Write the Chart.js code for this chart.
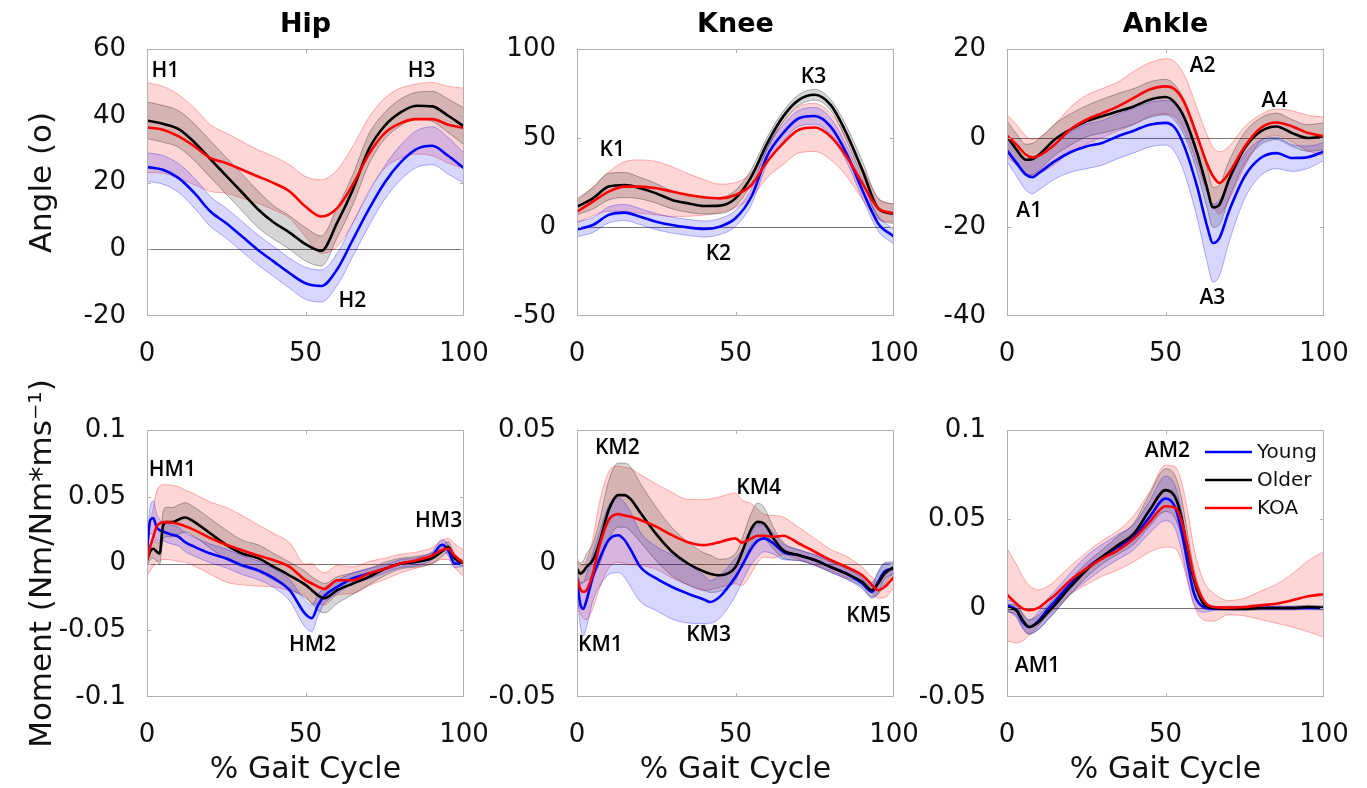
<!DOCTYPE html>
<html lang="en">
<head>
<meta charset="UTF-8">
<title>Gait cycle angles and moments</title>
<script src="https://cdn.jsdelivr.net/npm/chart.js"></script>
<style>
  body { margin: 0; background: #fff; width: 1367px; height: 788px; overflow: hidden; position: relative; }
  canvas { position: absolute; }
</style>
</head>
<body>
<script>
// ---- data (% gait cycle on x) ----
const groupNames = ['Young', 'Older', 'KOA'];
const xTicks = [0, 50, 100];

// Hip angle
const hipAngleX = [0,5,10,15,20,25,30,35,40,45,50,55,60,65,70,75,80,85,90,95,100];
const hipAngleYoung = [24.6,23.8,21.3,16.8,11.3,7.8,3.8,-0.2,-3.7,-7.2,-10.2,-11,-6,3,12,20,26,30,31,28,24.3];
const hipAngleYoungSD = [4.3,4.3,4.3,4.5,4.5,4.5,4.5,4.5,4.5,4.5,4.8,4.8,4.8,5,5,5,5.2,5.5,5.7,5.5,4.5];
const hipAngleOlder = [38.6,37.6,36,32,27,22,17,12,8,5,1.5,-0.5,8,18,30,37,41,43,42.8,40,36.8];
const hipAngleOlderSD = [5.5,5.5,5.5,5.5,5.5,5.5,5.5,5.5,5,5,5,4.5,4.5,4.5,4.5,4,4,4,4.5,5,5.5];
const hipAngleKoa = [36.5,35.8,33.8,30.8,27.3,25.8,23.8,21.8,19.8,17.3,12.8,9.8,12.3,19.5,28.5,34.8,37.8,39,39,37.3,36.3];
const hipAngleKoaSD = [13.5,13,12.5,11.5,10,9,8.5,8,8,8,9,11,11.5,11.5,11,10.5,10.5,10.5,11,11.5,12];
const hipAngleTicks = [-20, 0, 20, 40, 60];

// Knee angle
const kneeAngleX = [0,5,10,15,20,25,30,35,40,45,50,55,60,65,70,75,80,85,90,95,100];
const kneeAngleYoung = [-1.3,1.1,6.8,8.1,5.8,3,1.1,-0.2,-1.1,0.2,4.9,17,40,52.7,61.1,62.4,56.4,41.4,20.8,2,-5.4];
const kneeAngleYoungSD = [4.2,4.2,4.5,4.5,4.5,4.5,4.5,4.5,4.5,4.5,4.5,4.5,4.5,4.5,4.5,4.7,4.7,4.5,4.5,4.2,4.2];
const kneeAngleOlder = [11.4,16.1,22.7,23.6,21.8,18.9,15.2,13.3,11.8,12,16.1,28.3,47,62,71.4,74.3,68.6,52.7,32,10.5,7.3];
const kneeAngleOlderSD = [4.5,6,7.5,7,6,5.5,5,5,4.5,4.5,4.5,4,3.5,3,3,3,3,4,5,5.5,5.5];
const kneeAngleKoa = [8.6,14.3,19.9,22.7,22.7,21.8,19.9,18,16.7,16.1,18,23.6,36.8,47,54.6,55.9,50.8,39.6,24.6,10.5,7.7];
const kneeAngleKoaSD = [6,8,11,14,15,15,14,12,10,8,7,7,9,12,13,13.5,13,11,9,6,5];
const kneeAngleTicks = [-50, 0, 50, 100];

// Ankle angle
const ankleAngleX = [0,3,6,8,10,15,20,25,30,35,40,45,50,53,56,60,63,65,67,70,75,80,85,90,95,100];
const ankleAngleYoung = [-2.8,-5.6,-8.25,-8.8,-7.9,-5.25,-3.2,-1.9,-1.1,0.4,1.65,3,3.4,2.25,-2,-11,-19.5,-23.6,-22.5,-16.5,-8.6,-4.5,-3.4,-4.5,-4.3,-3];
const ankleAngleYoungSD = [2.5,3,3.5,3.7,3.8,4,4.5,5,5,5,5,5,5,5.5,6,7,8,8.8,8.5,7,5,4,3.5,3,2.5,2];
const ankleAngleOlder = [0.4,-2.6,-4.9,-4.7,-3.8,-0.4,1.9,3.75,4.9,6,7.1,8.6,9.2,7.9,4.5,-3.4,-10.9,-15.6,-15,-9.4,-2.25,1.5,2.6,1.1,0,0.4];
const ankleAngleOlderSD = [3.5,3.5,3.5,3.5,3.5,3.5,3.5,3.5,3.8,4,4,4,4,4,4,4.2,4.5,4.5,4.5,4.2,3.5,3,3,3,3,3];
const ankleAngleKoa = [0.5,-1.5,-3.75,-4.35,-4,-1.5,1.9,4.1,5.6,7.1,9,10.9,11.6,10.9,7.9,0.4,-5.6,-8.6,-10.1,-7.9,-1.9,2.25,3.5,2.6,1.1,0.4];
const ankleAngleKoaSD = [4.8,4.5,4.2,4,4,4.5,5,5.5,5.5,5.5,6,6,6.2,6.2,6.2,6.2,6.5,6.5,7,6,4.5,3,3,3.5,4,4.3];
const ankleAngleTicks = [-40, -20, 0, 20];

// Hip moment
const hipMomentX = [0,1,2,3,4,5,6,8,10,12,15,20,25,30,35,40,45,50,52,54,56,60,65,70,75,80,85,90,93,95,97,100];
const hipMomentYoung = [0.01,0.0325,0.034,0.0275,0.025,0.024,0.023,0.0215,0.02,0.016,0.0125,0.0075,0.0038,-0.0013,-0.005,-0.011,-0.02,-0.038,-0.041,-0.031,-0.024,-0.0175,-0.011,-0.0075,-0.004,0,0.0013,0.006,0.014,0.01,0,0];
const hipMomentYoungSD = [0.005,0.01,0.013,0.01,0.008,0.007,0.007,0.007,0.007,0.007,0.007,0.007,0.007,0.007,0.007,0.007,0.008,0.01,0.01,0.008,0.006,0.005,0.004,0.004,0.003,0.003,0.003,0.003,0.004,0.004,0.003,0.002];
const hipMomentOlder = [0.0025,0.009,0.011,0.009,0.0075,0.0275,0.031,0.031,0.033,0.0345,0.031,0.0225,0.014,0.0075,0.004,-0.0025,-0.009,-0.016,-0.02,-0.024,-0.026,-0.02,-0.015,-0.01,-0.004,0,0.0013,0.004,0.009,0.0125,0.004,0];
const hipMomentOlderSD = [0.005,0.006,0.007,0.007,0.008,0.01,0.011,0.011,0.011,0.011,0.011,0.011,0.011,0.01,0.01,0.01,0.01,0.01,0.01,0.011,0.011,0.01,0.008,0.006,0.005,0.004,0.004,0.004,0.004,0.004,0.003,0.002];
const hipMomentKoa = [0.0025,0.0125,0.02,0.0275,0.03,0.031,0.031,0.0305,0.0295,0.028,0.025,0.019,0.014,0.01,0.006,0.0025,-0.0025,-0.0125,-0.015,-0.0175,-0.019,-0.0125,-0.0125,-0.0075,-0.004,0,0.0025,0.006,0.01,0.011,0.006,0];
const hipMomentKoaSD = [0.012,0.018,0.022,0.026,0.028,0.028,0.028,0.028,0.028,0.027,0.027,0.027,0.028,0.026,0.023,0.02,0.018,0.012,0.015,0.013,0.012,0.011,0.01,0.009,0.008,0.007,0.006,0.006,0.007,0.008,0.009,0.01];
const hipMomentTicks = [-0.1, -0.05, 0, 0.05, 0.1];

// Knee moment
const kneeMomentX = [0,1,2,3,5,7,10,13,15,17,20,25,30,35,40,42,45,50,52,55,57,59,62,65,70,75,80,85,90,93,95,97,100];
const kneeMomentYoung = [-0.0056,-0.015,-0.017,-0.0138,-0.005,0.0013,0.0088,0.0106,0.0088,0.005,-0.0013,-0.0056,-0.0088,-0.0113,-0.0135,-0.0144,-0.0125,-0.005,-0.001,0.0056,0.0085,0.0094,0.0075,0.0044,0.0031,0.0013,-0.0013,-0.0038,-0.0075,-0.0106,-0.0069,-0.003,-0.0019];
const kneeMomentYoungSD = [0.004,0.008,0.01,0.01,0.009,0.01,0.013,0.014,0.014,0.014,0.013,0.012,0.012,0.011,0.009,0.008,0.008,0.007,0.006,0.006,0.006,0.005,0.004,0.003,0.002,0.002,0.002,0.002,0.002,0.002,0.004,0.003,0.002];
const kneeMomentOlder = [-0.0019,-0.0038,-0.003,-0.0013,0.0013,0.0075,0.02,0.0256,0.0256,0.024,0.019,0.011,0.0044,0,-0.003,-0.0038,-0.0044,-0.0013,0.004,0.013,0.0156,0.015,0.0094,0.005,0.0031,0.0013,-0.0013,-0.0038,-0.0069,-0.01,-0.0075,-0.0038,-0.0013];
const kneeMomentOlderSD = [0.003,0.004,0.004,0.005,0.006,0.008,0.011,0.012,0.012,0.012,0.011,0.01,0.009,0.008,0.007,0.007,0.006,0.005,0.005,0.006,0.007,0.006,0.004,0.003,0.002,0.002,0.002,0.002,0.002,0.003,0.004,0.004,0.002];
const kneeMomentKoa = [-0.0056,-0.0094,-0.0106,-0.01,-0.0038,0.0063,0.0163,0.0185,0.018,0.0175,0.0163,0.0138,0.0106,0.008,0.0069,0.0072,0.008,0.0094,0.0078,0.0094,0.0104,0.0104,0.01,0.0104,0.0075,0.0044,0.0013,-0.0013,-0.0044,-0.008,-0.01,-0.0088,-0.005];
const kneeMomentKoaSD = [0.008,0.009,0.01,0.011,0.013,0.016,0.018,0.018,0.018,0.018,0.017,0.016,0.016,0.016,0.017,0.017,0.017,0.017,0.016,0.013,0.01,0.008,0.008,0.007,0.006,0.005,0.004,0.004,0.003,0.003,0.003,0.004,0.004];
const kneeMomentTicks = [-0.05, 0, 0.05];

// Ankle moment
const ankleMomentX = [0,3,5,7,10,13,15,20,25,30,35,40,45,50,53,55,57,59,62,65,70,75,80,85,90,95,100];
const ankleMomentYoung = [0.0015,-0.0013,-0.0079,-0.0107,-0.007,-0.0004,0.0034,0.0137,0.0221,0.0287,0.0343,0.0399,0.0512,0.0615,0.0568,0.0437,0.0249,0.0081,0.0006,-0.0004,0,0,0,0,0,0,0];
const ankleMomentYoungSD = [0.003,0.004,0.004,0.004,0.005,0.006,0.006,0.006,0.007,0.007,0.007,0.007,0.009,0.0125,0.012,0.011,0.009,0.006,0.003,0.001,0.001,0.001,0.001,0.001,0.001,0.001,0.001];
const ankleMomentOlder = [0,-0.0013,-0.007,-0.0107,-0.0079,-0.0023,0.0015,0.0118,0.0212,0.0287,0.0353,0.0418,0.055,0.0662,0.0624,0.0512,0.0324,0.0156,0.0024,0,-0.0004,-0.0004,0,0,0,0.0006,0];
const ankleMomentOlderSD = [0.002,0.003,0.004,0.004,0.004,0.004,0.004,0.004,0.004,0.004,0.005,0.006,0.009,0.012,0.012,0.011,0.009,0.006,0.003,0.001,0.001,0.001,0.001,0.001,0.001,0.001,0.001];
const ankleMomentKoa = [0.0075,0.0024,-0.0004,-0.0013,0.0002,0.0043,0.0071,0.0156,0.0221,0.0278,0.0324,0.039,0.0484,0.0572,0.0564,0.0493,0.0343,0.0174,0.0043,0.0006,0.0002,0.0006,0.0015,0.0024,0.0043,0.0066,0.0077];
const ankleMomentKoaSD = [0.026,0.022,0.018,0.014,0.01,0.008,0.008,0.008,0.009,0.01,0.011,0.013,0.017,0.023,0.023,0.022,0.02,0.016,0.011,0.008,0.004,0.005,0.008,0.011,0.015,0.02,0.024];
const ankleMomentTicks = [-0.05, 0, 0.05, 0.1];

// ---- styles / layout ----
const groupStyle = {
  Young: { line: '#0000ff', band: 'rgba(0,0,255,0.16)', edge: 'rgba(0,0,255,0.3)' },
  Older: { line: '#000000', band: 'rgba(0,0,0,0.16)', edge: 'rgba(0,0,0,0.3)' },
  KOA:   { line: '#ff0000', band: 'rgba(255,0,0,0.16)', edge: 'rgba(255,0,0,0.3)' }
};
const plotLeft = [147, 577, 1007];
const plotTop = [49, 430];
const plotW = 317, plotH = 267;
const FONT = '"DejaVu Sans", sans-serif';

const panels = [
  { col: 0, row: 0, title: 'Hip', yTitle: 'Angle (o)', x: hipAngleX,
    series: [hipAngleYoung, hipAngleYoungSD, hipAngleOlder, hipAngleOlderSD, hipAngleKoa, hipAngleKoaSD],
    yMin: -20, yMax: 60, yTicks: hipAngleTicks,
    notes: [['H1', 5.8, 53.5], ['H2', 64.8, -15.5], ['H3', 86.6, 53.5]] },
  { col: 1, row: 0, title: 'Knee', x: kneeAngleX,
    series: [kneeAngleYoung, kneeAngleYoungSD, kneeAngleOlder, kneeAngleOlderSD, kneeAngleKoa, kneeAngleKoaSD],
    yMin: -50, yMax: 100, yTicks: kneeAngleTicks,
    notes: [['K1', 11.1, 43.4], ['K2', 44.6, -15.1], ['K3', 74.6, 84.4]] },
  { col: 2, row: 0, title: 'Ankle', x: ankleAngleX,
    series: [ankleAngleYoung, ankleAngleYoungSD, ankleAngleOlder, ankleAngleOlderSD, ankleAngleKoa, ankleAngleKoaSD],
    yMin: -40, yMax: 20, yTicks: ankleAngleTicks,
    notes: [['A1', 7, -16.4], ['A2', 61.7, 16.2], ['A3', 64.8, -36], ['A4', 84.4, 8.4]] },
  { col: 0, row: 1, yTitle: 'Moment (Nm/Nm*ms\u207B\u00B9)', xTitle: '% Gait Cycle', x: hipMomentX,
    series: [hipMomentYoung, hipMomentYoungSD, hipMomentOlder, hipMomentOlderSD, hipMomentKoa, hipMomentKoaSD],
    yMin: -0.1, yMax: 0.1, yTicks: hipMomentTicks,
    notes: [['HM1', 8, 0.07], ['HM2', 52.2, -0.061], ['HM3', 92, 0.0318]] },
  { col: 1, row: 1, xTitle: '% Gait Cycle', x: kneeMomentX,
    series: [kneeMomentYoung, kneeMomentYoungSD, kneeMomentOlder, kneeMomentOlderSD, kneeMomentKoa, kneeMomentKoaSD],
    yMin: -0.05, yMax: 0.05, yTicks: kneeMomentTicks,
    notes: [['KM1', 7.4, -0.0306], ['KM2', 12.7, 0.0433], ['KM3', 41.5, -0.0269], ['KM4', 57.3, 0.0283], ['KM5', 92, -0.0198]] },
  { col: 2, row: 1, xTitle: '% Gait Cycle', x: ankleMomentX, legend: true,
    series: [ankleMomentYoung, ankleMomentYoungSD, ankleMomentOlder, ankleMomentOlderSD, ankleMomentKoa, ankleMomentKoaSD],
    yMin: -0.05, yMax: 0.1, yTicks: ankleMomentTicks,
    notes: [['AM1', 9.6, -0.0328], ['AM2', 50.6, 0.0882]] }
];

function fmt(v) {
  return String(Math.round(v * 1000) / 1000);
}

function buildDatasets(p) {
  const bands = [], lines = [];
  groupNames.forEach((name, k) => {
    const mean = p.series[2 * k], sd = p.series[2 * k + 1];
    const st = groupStyle[name];
    bands.push({ label: name + ' upper', data: p.x.map((x, i) => ({ x: x, y: mean[i] + sd[i] })),
      borderColor: st.edge, borderWidth: 1, backgroundColor: st.band, fill: '+1', order: 10 });
    bands.push({ label: name + ' lower', data: p.x.map((x, i) => ({ x: x, y: mean[i] - sd[i] })),
      borderColor: st.edge, borderWidth: 1, fill: false, order: 10 });
    lines.push({ label: name, data: p.x.map((x, i) => ({ x: x, y: mean[i] })),
      borderColor: st.line, borderWidth: 2.6, fill: false, order: 3 - k });
  });
  return bands.concat(lines);
}

// frame, zero line, inner ticks, peak labels, legend
function panelPlugin(p) {
  return {
    id: 'panelDeco',
    beforeDatasetsDraw(chart) {
      const ctx = chart.ctx, ca = chart.chartArea, ys = chart.scales.y;
      const y0 = Math.round(ys.getPixelForValue(0)) + 0.5;
      ctx.save();
      ctx.strokeStyle = '#777';
      ctx.lineWidth = 1;
      ctx.beginPath();
      ctx.moveTo(ca.left, y0);
      ctx.lineTo(ca.right, y0);
      ctx.stroke();
      ctx.restore();
    },
    afterDatasetsDraw(chart) {
      const ctx = chart.ctx, ca = chart.chartArea;
      const xs = chart.scales.x, ys = chart.scales.y;
      ctx.save();
      ctx.strokeStyle = '#b0b0b0';
      ctx.lineWidth = 1;
      ctx.strokeRect(ca.left + 0.5, ca.top + 0.5, ca.right - ca.left - 1, ca.bottom - ca.top - 1);
      ctx.beginPath();
      xTicks.slice(1, -1).forEach(v => {
        const px = Math.round(xs.getPixelForValue(v)) + 0.5;
        ctx.moveTo(px, ca.bottom); ctx.lineTo(px, ca.bottom - 4);
        ctx.moveTo(px, ca.top); ctx.lineTo(px, ca.top + 4);
      });
      p.yTicks.slice(1, -1).forEach(v => {
        const py = Math.round(ys.getPixelForValue(v)) + 0.5;
        ctx.moveTo(ca.left, py); ctx.lineTo(ca.left + 4, py);
        ctx.moveTo(ca.right, py); ctx.lineTo(ca.right - 4, py);
      });
      ctx.stroke();

      ctx.fillStyle = '#000';
      ctx.font = '600 21px "Open Sans", sans-serif';
      ctx.textAlign = 'center';
      ctx.textBaseline = 'middle';
      p.notes.forEach(([txt, x, y]) => {
        ctx.fillText(txt, xs.getPixelForValue(x), ys.getPixelForValue(y));
      });

      if (p.legend) {
        ctx.font = '20px ' + FONT;
        ctx.textAlign = 'left';
        groupNames.forEach((name, k) => {
          const ly = ca.top + 22 + k * 28;
          ctx.strokeStyle = groupStyle[name].line;
          ctx.lineWidth = 2.6;
          ctx.beginPath();
          ctx.moveTo(ca.left + 198, ly);
          ctx.lineTo(ca.left + 245, ly);
          ctx.stroke();
          ctx.fillStyle = '#111';
          ctx.fillText(name, ca.left + 250, ly + 1);
        });
      }

      if (p.title) {
        ctx.fillStyle = '#000';
        ctx.font = 'bold 27px ' + FONT;
        ctx.textAlign = 'center';
        ctx.textBaseline = 'alphabetic';
        ctx.fillText(p.title, (ca.left + ca.right) / 2, ca.top - 17);
      }
      ctx.restore();
    }
  };
}

panels.forEach(p => {
  const mLeft = p.col === 0 ? plotLeft[0] : 120;
  const mRight = 42;
  const mTop = p.row === 0 ? plotTop[0] : 50;
  const mBottom = p.row === 0 ? 55 : 91;
  const cv = document.createElement('canvas');
  const w = mLeft + plotW + mRight, h = mTop + plotH + mBottom;
  cv.width = w; cv.height = h;
  cv.style.left = (plotLeft[p.col] - mLeft) + 'px';
  cv.style.top = (plotTop[p.row] - mTop) + 'px';
  cv.style.width = w + 'px'; cv.style.height = h + 'px';
  document.body.appendChild(cv);

  new Chart(cv, {
    type: 'line',
    data: { datasets: buildDatasets(p) },
    options: {
      responsive: false,
      animation: false,
      events: [],
      layout: { padding: { left: 0, right: mRight, top: mTop, bottom: 0 }, autoPadding: false },
      elements: {
        point: { radius: 0 },
        line: { cubicInterpolationMode: 'monotone' }
      },
      plugins: { legend: { display: false }, tooltip: { enabled: false } },
      scales: {
        x: {
          type: 'linear', min: 0, max: 100,
          afterBuildTicks: s => { s.ticks = xTicks.map(v => ({ value: v })); },
          afterFit: s => { s.height = mBottom; s.paddingLeft = 0; s.paddingRight = 0; },
          grid: { display: false },
          border: { display: false },
          ticks: { autoSkip: false, maxRotation: 0, padding: 15, color: '#111',
                   font: { family: FONT, size: 26 }, callback: v => fmt(v) },
          title: { display: !!p.xTitle, text: p.xTitle || '', color: '#111',
                   font: { family: FONT, size: 30 }, padding: { top: 0, bottom: 0 } }
        },
        y: {
          type: 'linear', min: p.yMin, max: p.yMax,
          afterBuildTicks: s => { s.ticks = p.yTicks.map(v => ({ value: v })); },
          afterFit: s => { s.width = mLeft; s.paddingTop = 0; s.paddingBottom = 0; },
          grid: { display: false },
          border: { display: false },
          ticks: { autoSkip: false, padding: 13, color: '#111',
                   font: { family: FONT, size: 26 }, callback: v => fmt(v) },
          title: { display: !!p.yTitle, text: p.yTitle || '', color: '#111',
                   font: { family: FONT, size: 31 }, padding: { top: 24, bottom: 0 } }
        }
      }
    },
    plugins: [panelPlugin(p)]
  });
});
</script>
</body>
</html>
